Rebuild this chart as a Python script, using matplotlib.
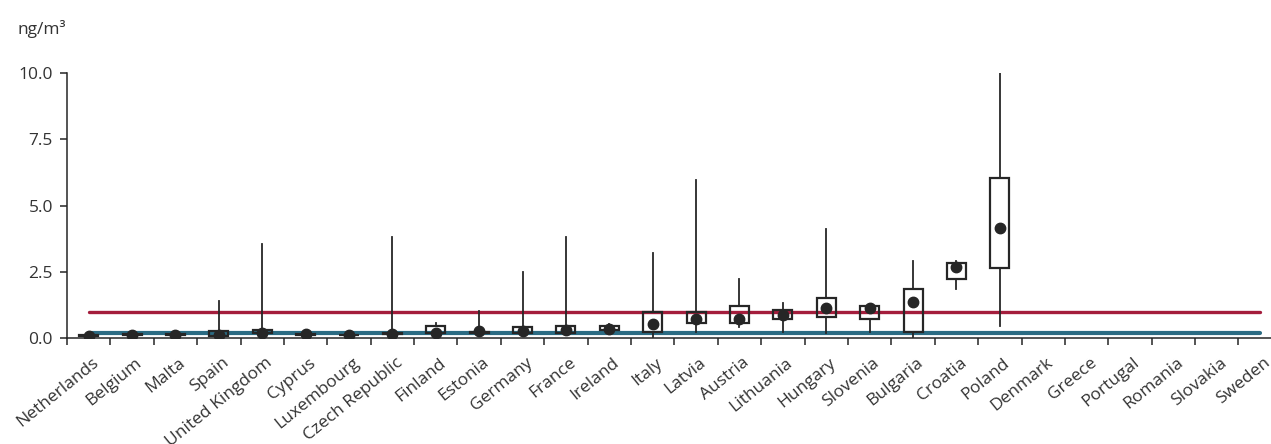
import matplotlib.pyplot as plt
import matplotlib.transforms as mtransforms
import numpy as np

plt.rcParams['font.family'] = ['Open Sans', 'DejaVu Sans']

countries = ["Netherlands", "Belgium", "Malta", "Spain", "United Kingdom", "Cyprus",
             "Luxembourg", "Czech Republic", "Finland", "Estonia", "Germany", "France",
             "Ireland", "Italy", "Latvia", "Austria", "Lithuania", "Hungary", "Slovenia",
             "Bulgaria", "Croatia", "Poland", "Denmark", "Greece", "Portugal", "Romania",
             "Slovakia", "Sweden"]

# box/whisker statistics per country (ng/m3); countries without data are left out
whis_low = [0.06, 0.12, 0.12, 0.09, 0.18, 0.13, 0.10, 0.15, 0.18, 0.20, 0.18, 0.18,
            0.29, 0.05, 0.24, 0.40, 0.24, 0.18, 0.24, 0.05, 1.84, 0.45]
q1 = [0.06, 0.12, 0.12, 0.09, 0.18, 0.13, 0.10, 0.15, 0.18, 0.20, 0.18, 0.18,
      0.29, 0.24, 0.58, 0.58, 0.72, 0.78, 0.70, 0.24, 2.23, 2.63]
q3 = [0.10, 0.14, 0.14, 0.28, 0.32, 0.15, 0.12, 0.18, 0.45, 0.22, 0.40, 0.45,
      0.46, 0.97, 0.97, 1.22, 1.06, 1.50, 1.21, 1.84, 2.82, 6.05]
whis_high = [0.10, 0.14, 0.14, 1.41, 3.55, 0.15, 0.12, 3.82, 0.58, 1.03, 2.50, 3.82,
             0.53, 3.20, 5.96, 2.23, 1.33, 4.10, 1.21, 2.92, 2.92, 10.0]
means = [0.08, 0.13, 0.13, 0.11, 0.20, 0.14, 0.11, 0.17, 0.20, 0.26, 0.26, 0.30,
         0.33, 0.53, 0.70, 0.73, 0.88, 1.12, 1.14, 1.35, 2.67, 4.14]

target_value = 1.0
reference_level = 0.18

dark = "#262626"
red = "#a41d3c"
teal = "#2b6b83"

fig = plt.figure(figsize=(12.71, 4.44), dpi=100)
ax = fig.add_axes([0.0527, 0.2387, 0.9473, 0.5968])

x = np.arange(len(countries))
ax.plot(x, [target_value] * len(x), color=red, lw=2.4, zorder=1, solid_capstyle='round')
ax.plot(x, [reference_level] * len(x), color=teal, lw=3.0, zorder=1, solid_capstyle='round')

stats = []
for i in range(len(whis_low)):
    stats.append(dict(whislo=whis_low[i], q1=q1[i], med=means[i], q3=q3[i],
                      whishi=whis_high[i], mean=means[i], fliers=[]))

ax.bxp(stats, positions=x[:len(stats)], widths=0.44, showcaps=False, showfliers=False,
       showmeans=True, patch_artist=True,
       boxprops=dict(facecolor='none', edgecolor=dark, linewidth=1.6),
       whiskerprops=dict(color=dark, linewidth=1.3),
       medianprops=dict(visible=False),
       meanprops=dict(marker='o', markersize=7.5, markerfacecolor=dark,
                      markeredgecolor=dark),
       manage_ticks=False, zorder=2)

ax.set_xlim(-0.5, 27.25)
ax.set_ylim(0, 10)
ax.set_yticks([0, 2.5, 5, 7.5, 10])
ax.set_yticklabels(["0.0", "2.5", "5.0", "7.5", "10.0"])

ax.set_xticks(x)
ax.set_xticklabels(countries, rotation=39, ha='right', va='top', rotation_mode='anchor')
ax.set_xticks(np.arange(-0.5, 27, 1), minor=True)
ax.tick_params(axis='x', which='major', length=0, pad=12)
ax.tick_params(axis='x', which='minor', length=5, width=1.1, color=dark)
ax.tick_params(axis='y', length=5, width=1.1, color=dark, pad=5)
ax.tick_params(labelsize=12.5, labelcolor="#333333")

# nudge the rotated country names a little to the right
shift = mtransforms.ScaledTranslation(3 / 100, 0, fig.dpi_scale_trans)
for lbl in ax.get_xticklabels():
    lbl.set_transform(lbl.get_transform() + shift)

for side in ['top', 'right']:
    ax.spines[side].set_visible(False)
for side in ['left', 'bottom']:
    ax.spines[side].set_color(dark)
    ax.spines[side].set_linewidth(1.1)

fig.text(0.014, 0.935, "ng/m³", fontsize=12.5, color="#333333", va='center')

fig.savefig("out.png", dpi=100)
